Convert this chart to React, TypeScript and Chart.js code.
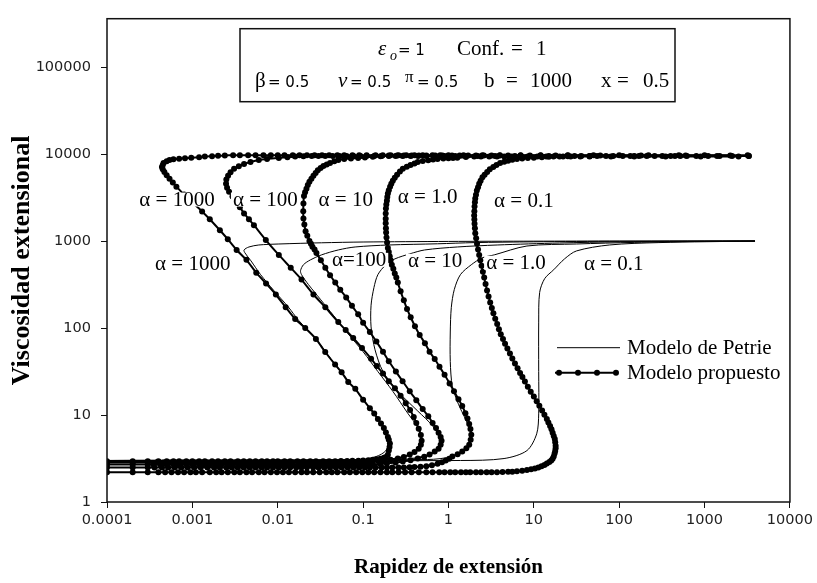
import React, { useEffect, useRef } from "react";
import { Chart, registerables } from "chart.js";

Chart.register(...registerables);

type Pt = [number, number];

// ---------- axes ----------
const xTickValues = [0.0001, 0.001, 0.01, 0.1, 1, 10, 100, 1000, 10000];
const xTickLabels = ["0.0001", "0.001", "0.01", "0.1", "1", "10", "100", "1000", "10000"];
const yTickValues = [1, 10, 100, 1000, 10000, 100000];
const yTickLabels = ["1", "10", "100", "1000", "10000", "100000"];
const xRange = [0.0001, 10000];
const yRange = [1, 360000];

// ---------- curve labels (text, anchor x, anchor y in data units) ----------
const labelTexts = ["α = 1000", "α = 100", "α = 10", "α = 1.0", "α = 0.1", "α = 1000", "α=100", "α = 10", "α = 1.0", "α = 0.1"];
const labelX = [0.00066, 0.00716, 0.0627, 0.57, 7.65, 0.00101, 0.0897, 0.697, 6.18, 86.3];
const labelY = [3000, 3000, 3000, 3250, 2920, 548, 608, 593, 562, 548];

// ---------- Modelo de Petrie (thin lines) ----------
const petrie1000: Pt[] = [
  [0.0001, 3], [0.0875, 3.05], [0.142, 3.33], [0.185, 3.9], [0.2, 5.07], [0.175, 7.1], [0.12, 12], [0.081, 19.7],
  [0.047, 38], [0.028, 75], [0.0175, 123], [0.0134, 173], [0.009, 270], [0.0063, 411], [0.00485, 593], [0.00413, 731],
  [0.00403, 790], [0.0046, 855], [0.006, 901], [0.0103, 925], [0.0325, 955], [0.1, 975], [1, 990], [10, 997], [100, 1000], [3900, 1000],
];
const petrie100: Pt[] = [
  [0.0001, 3], [0.171, 3.08], [0.292, 3.33], [0.413, 3.9], [0.485, 5.07], [0.448, 6.93], [0.333, 10.5], [0.223, 18.7],
  [0.149, 31.6], [0.1, 53.4], [0.067, 85.5], [0.0448, 140], [0.0316, 214], [0.0229, 316], [0.019, 411], [0.0185, 456],
  [0.02, 534], [0.0242, 608], [0.0325, 693], [0.0512, 790], [0.0807, 855], [0.2, 901], [0.745, 930], [2, 960], [10, 980],
  [100, 995], [3900, 1000],
];
const petrie10: Pt[] = [
  [0.0001, 3], [0.255, 3.08], [0.437, 3.25], [0.652, 3.7], [0.785, 4.56], [0.785, 5.48], [0.652, 7.5], [0.437, 11.1],
  [0.255, 18.7], [0.171, 31.6], [0.138, 56.2], [0.124, 103], [0.124, 183], [0.134, 292], [0.149, 411], [0.185, 534],
  [0.236, 624], [0.352, 712], [0.526, 790], [1.27, 855], [3.72, 901], [20, 950], [100, 980], [500, 995], [3900, 1000],
];
const petrie1: Pt[] = [
  [0.0001, 3], [0.57, 3.08], [1.11, 3.33], [1.54, 3.9], [1.85, 5.07], [1.8, 6.58], [1.58, 9.0], [1.31, 13.3],
  [1.11, 21.4], [1.05, 41.1], [1.05, 90], [1.08, 173], [1.17, 277], [1.38, 411], [1.85, 534], [2.48, 641],
  [3.43, 693], [8.3, 877], [31.6, 925], [150, 965], [800, 990], [3900, 1000],
];
const petrie01: Pt[] = [
  [0.0001, 3], [1.38, 3.0], [4.48, 3.16], [8.3, 3.9], [10.8, 6.08], [11.4, 10.3], [11.4, 31.6], [11.4, 117],
  [11.7, 257], [13.4, 370], [17.1, 468], [22.9, 624], [31.6, 770], [76.5, 901], [292, 960], [3900, 1000],
];

// ---------- Modelo propuesto (thick lines with markers) ----------
const propuesto1000: Pt[] = [
  [0.0001, 2.95], [0.0002, 2.95], [0.0003, 2.95], [0.0004, 2.95], [0.0005, 2.95], [0.0006, 2.95], [0.0007, 2.95],
  [0.00085, 2.95], [0.001, 2.95], [0.0012, 2.95], [0.0014, 2.95], [0.0017, 2.95], [0.002, 2.95], [0.0024, 2.95],
  [0.0028, 2.95], [0.0034, 2.95], [0.004, 2.95], [0.0047, 2.95], [0.0055, 2.95], [0.0065, 2.95], [0.0075, 2.95],
  [0.0088, 2.95], [0.01, 2.95], [0.012, 2.95], [0.014, 2.95], [0.017, 2.95], [0.02, 2.95], [0.024, 2.95],
  [0.028, 2.95], [0.034, 2.95], [0.04, 2.95], [0.047, 2.95], [0.055, 2.96], [0.065, 2.97], [0.075, 2.98],
  [0.088, 2.99], [0.1, 3.0], [0.115, 3.02], [0.13, 3.05], [0.145, 3.1], [0.16, 3.15], [0.175, 3.22], [0.185, 3.3],
  [0.195, 3.5], [0.2, 3.9], [0.204, 4.3], [0.206, 4.7], [0.2, 5.2], [0.195, 5.6], [0.185, 6.3], [0.175, 7.1],
  [0.162, 8], [0.149, 9], [0.135, 10.4], [0.12, 12], [0.1, 15], [0.081, 20], [0.067, 24], [0.056, 31], [0.047, 38],
  [0.036, 53], [0.028, 75], [0.021, 100], [0.016, 127], [0.0124, 173], [0.0095, 243], [0.0073, 325], [0.0056, 433],
  [0.0043, 608], [0.0033, 790], [0.0026, 1050], [0.0021, 1330], [0.0016, 1780], [0.0013, 2190], [0.001, 2770],
  [0.0008, 3420], [0.00065, 4220], [0.00059, 4700], [0.00054, 5200], [0.0005, 5700], [0.00047, 6240], [0.00045, 6700],
  [0.00044, 7100], [0.00045, 7500], [0.00046, 7900], [0.0005, 8250], [0.00054, 8550], [0.0006, 8700], [0.0007, 8850],
  [0.00082, 8950], [0.00097, 9050], [0.0012, 9200], [0.0014, 9350], [0.0017, 9450], [0.002, 9550], [0.0024, 9650],
  [0.003, 9700], [0.0036, 9700], [0.0045, 9700], [0.0055, 9700], [0.0068, 9700], [0.0083, 9700], [0.01, 9700],
  [0.012, 9700], [0.015, 9700], [0.018, 9700], [0.022, 9700], [0.027, 9700], [0.033, 9700], [0.04, 9700],
  [0.05, 9700], [0.06, 9700], [0.075, 9700], [0.09, 9700], [0.11, 9700], [0.14, 9700], [0.17, 9700], [0.21, 9700],
  [0.26, 9700], [0.32, 9700], [0.4, 9700], [0.5, 9700], [0.65, 9700], [0.8, 9700], [1, 9700], [1.5, 9700],
  [2.5, 9700], [4, 9700], [7, 9700], [12, 9700], [25, 9700], [50, 9700], [100, 9700], [220, 9700], [500, 9700],
  [1000, 9700], [3200, 9700],
];
const propuesto100: Pt[] = [
  [0.0001, 2.85], [0.0002, 2.85], [0.0003, 2.85], [0.00038, 2.85], [0.00046, 2.85], [0.00055, 2.85], [0.00065, 2.85],
  [0.00078, 2.85], [0.0009, 2.85], [0.0011, 2.85], [0.0013, 2.85], [0.0015, 2.85], [0.0018, 2.85], [0.0022, 2.85],
  [0.0026, 2.85], [0.0031, 2.85], [0.0037, 2.85], [0.0043, 2.85], [0.005, 2.85], [0.006, 2.85], [0.007, 2.85],
  [0.008, 2.85], [0.0095, 2.85], [0.011, 2.85], [0.013, 2.85], [0.015, 2.85], [0.018, 2.85], [0.022, 2.85],
  [0.026, 2.85], [0.031, 2.85], [0.037, 2.85], [0.043, 2.85], [0.05, 2.85], [0.06, 2.85], [0.07, 2.85],
  [0.08, 2.86], [0.09, 2.86], [0.1, 2.87], [0.115, 2.89], [0.13, 2.92], [0.15, 2.96], [0.171, 3.0], [0.21, 3.07],
  [0.255, 3.16], [0.3, 3.3], [0.352, 3.51], [0.4, 3.75], [0.448, 4.1], [0.475, 4.55], [0.485, 5.07], [0.475, 5.9],
  [0.448, 6.93], [0.42, 8.1], [0.392, 9.5], [0.355, 11.4], [0.316, 13.7], [0.275, 16.7], [0.236, 20.3], [0.2, 24.5],
  [0.171, 30], [0.145, 36.5], [0.124, 44.4], [0.097, 59], [0.0766, 76.9], [0.0625, 95], [0.0512, 117], [0.0361, 173],
  [0.0262, 243], [0.019, 361], [0.0142, 493], [0.0103, 693], [0.00725, 1027], [0.00526, 1520], [0.0046, 1780],
  [0.00403, 2080], [0.0036, 2450], [0.00325, 2850], [0.00295, 3250], [0.00269, 3700], [0.00255, 4100],
  [0.00248, 4560], [0.0025, 5100], [0.00262, 5620], [0.0028, 6200], [0.00308, 6760], [0.0035, 7250], [0.00403, 7690],
  [0.0048, 8100], [0.006, 8550], [0.0075, 8800], [0.0103, 9010], [0.013, 9200], [0.016, 9350], [0.02, 9450],
  [0.025, 9500], [0.03, 9500], [0.036, 9500], [0.044, 9500], [0.053, 9500], [0.064, 9500], [0.077, 9500],
  [0.093, 9500], [0.11, 9500], [0.135, 9500], [0.165, 9500], [0.2, 9500], [0.24, 9500], [0.29, 9500], [0.36, 9500],
  [0.44, 9500], [0.55, 9500], [0.7, 9500], [0.9, 9500], [1.2, 9500], [1.6, 9500], [2.2, 9500], [3.5, 9500],
  [6, 9500], [15, 9500], [45, 9500], [150, 9500], [450, 9500], [1500, 9500], [3300, 9500],
];
const propuesto10: Pt[] = [
  [0.0001, 2.7], [0.0002, 2.7], [0.0003, 2.7], [0.00035, 2.7], [0.00042, 2.7], [0.0005, 2.7], [0.0006, 2.7],
  [0.0007, 2.7], [0.00085, 2.7], [0.001, 2.7], [0.0012, 2.7], [0.0014, 2.7], [0.0016, 2.7], [0.0019, 2.7],
  [0.0022, 2.7], [0.0026, 2.7], [0.003, 2.7], [0.0036, 2.7], [0.0042, 2.7], [0.005, 2.7], [0.0058, 2.7],
  [0.0068, 2.7], [0.008, 2.7], [0.0095, 2.7], [0.011, 2.7], [0.013, 2.7], [0.015, 2.7], [0.018, 2.7], [0.021, 2.7],
  [0.024, 2.7], [0.028, 2.7], [0.033, 2.7], [0.039, 2.7], [0.045, 2.7], [0.053, 2.7], [0.062, 2.7], [0.072, 2.7],
  [0.083, 2.7], [0.095, 2.7], [0.11, 2.71], [0.13, 2.72], [0.16, 2.74], [0.19, 2.78], [0.24, 2.84], [0.292, 2.92],
  [0.36, 3.02], [0.437, 3.16], [0.52, 3.32], [0.601, 3.51], [0.69, 3.8], [0.766, 4.1], [0.81, 4.55], [0.83, 5.07],
  [0.81, 5.6], [0.766, 6.24], [0.715, 7.1], [0.652, 8.11], [0.58, 9.7], [0.499, 11.7], [0.42, 14.8], [0.352, 18.7],
  [0.29, 24.5], [0.242, 31.6], [0.2, 41.5], [0.171, 53.4], [0.143, 70], [0.12, 90], [0.1, 115], [0.0875, 144],
  [0.074, 180], [0.0634, 225], [0.054, 275], [0.0472, 333], [0.041, 405], [0.0361, 493], [0.032, 600], [0.0284, 731],
  [0.027, 800], [0.0255, 860], [0.0245, 930], [0.0235, 1000], [0.0222, 1150], [0.0212, 1300], [0.0205, 1550],
  [0.02, 1820], [0.0199, 2200], [0.02, 2700], [0.0203, 3300], [0.0209, 3650], [0.0217, 4000], [0.0225, 4400],
  [0.0235, 4800], [0.0248, 5200], [0.0262, 5620], [0.0278, 6050], [0.0295, 6500], [0.0318, 6900], [0.0343, 7310],
  [0.0375, 7600], [0.041, 7900], [0.046, 8250], [0.0512, 8550], [0.06, 8750], [0.072, 8900], [0.0875, 9010],
  [0.105, 9150], [0.13, 9300], [0.16, 9450], [0.2, 9600], [0.25, 9600], [0.3, 9600], [0.37, 9600], [0.45, 9600],
  [0.55, 9600], [0.7, 9600], [0.85, 9600], [1.1, 9600], [1.35, 9600], [1.7, 9600], [2.1, 9600], [2.6, 9600],
  [3.2, 9600], [4, 9600], [5, 9600], [7, 9600], [9, 9600], [12, 9600], [18, 9600], [25, 9600], [60, 9600],
  [180, 9600], [600, 9600], [2000, 9600],
];
const propuesto1: Pt[] = [
  [0.0001, 2.5], [0.0002, 2.5], [0.0003, 2.5], [0.00036, 2.5], [0.00044, 2.5], [0.00052, 2.5], [0.00062, 2.5],
  [0.00074, 2.5], [0.00088, 2.5], [0.00105, 2.5], [0.00125, 2.5], [0.0015, 2.5], [0.0018, 2.5], [0.0021, 2.5],
  [0.0025, 2.5], [0.0029, 2.5], [0.0034, 2.5], [0.004, 2.5], [0.0047, 2.5], [0.0055, 2.5], [0.0065, 2.5],
  [0.0075, 2.5], [0.0088, 2.5], [0.0103, 2.5], [0.012, 2.5], [0.014, 2.5], [0.0165, 2.5], [0.019, 2.5], [0.022, 2.5],
  [0.026, 2.5], [0.03, 2.5], [0.035, 2.5], [0.041, 2.5], [0.048, 2.5], [0.056, 2.5], [0.066, 2.5], [0.077, 2.5],
  [0.09, 2.5], [0.105, 2.5], [0.12, 2.5], [0.14, 2.5], [0.165, 2.5], [0.19, 2.5], [0.22, 2.5], [0.26, 2.5],
  [0.3, 2.5], [0.35, 2.51], [0.4, 2.52], [0.47, 2.55], [0.55, 2.58], [0.64, 2.65], [0.745, 2.75], [0.84, 2.86],
  [0.93, 3.0], [1.02, 3.15], [1.11, 3.33], [1.28, 3.55], [1.45, 3.8], [1.62, 4.15], [1.75, 4.56], [1.82, 5.2],
  [1.85, 5.93], [1.81, 6.9], [1.75, 7.9], [1.67, 9.1], [1.58, 10.5], [1.45, 12.7], [1.31, 15.2], [1.16, 18.8],
  [1.03, 23.1], [0.9, 29], [0.785, 36], [0.69, 44], [0.601, 53.4], [0.53, 67], [0.46, 83.3], [0.405, 105],
  [0.361, 133], [0.327, 166], [0.3, 208], [0.275, 265], [0.255, 333], [0.245, 380], [0.235, 425], [0.226, 480],
  [0.217, 534], [0.21, 600], [0.205, 670], [0.2, 750], [0.195, 832], [0.191, 960], [0.188, 1100], [0.186, 1250],
  [0.185, 1400], [0.184, 1600], [0.184, 1800], [0.184, 2070], [0.185, 2370], [0.187, 2630], [0.19, 2900],
  [0.192, 3200], [0.195, 3510], [0.2, 3850], [0.207, 4200], [0.214, 4550], [0.223, 4930], [0.235, 5350],
  [0.25, 5800], [0.27, 6300], [0.292, 6760], [0.325, 7150], [0.36, 7500], [0.4, 7800], [0.437, 8110], [0.5, 8300],
  [0.58, 8500], [0.66, 8650], [0.745, 8780], [0.87, 8870], [1.0, 8950], [1.13, 9000], [1.27, 9050], [1.6, 9250],
  [2, 9400], [2.4, 9400], [3, 9400], [3.7, 9400], [4.5, 9400], [5.5, 9400], [7, 9400], [8.5, 9400], [11, 9400],
  [14, 9400], [17, 9400], [22, 9400], [27, 9400], [35, 9400], [45, 9400], [80, 9400], [150, 9400], [350, 9400],
  [900, 9400], [2500, 9400],
];
const propuesto01: Pt[] = [
  [0.0001, 2.2], [0.0002, 2.2], [0.0003, 2.2], [0.0004, 2.2], [0.00048, 2.2], [0.00057, 2.2], [0.00068, 2.2],
  [0.0008, 2.2], [0.00095, 2.2], [0.0011, 2.2], [0.0013, 2.2], [0.0016, 2.2], [0.0019, 2.2], [0.0022, 2.2],
  [0.0026, 2.2], [0.0031, 2.2], [0.0036, 2.2], [0.0043, 2.2], [0.005, 2.2], [0.006, 2.2], [0.007, 2.2],
  [0.0083, 2.2], [0.0098, 2.2], [0.0115, 2.2], [0.0135, 2.2], [0.016, 2.2], [0.019, 2.2], [0.022, 2.2],
  [0.026, 2.2], [0.031, 2.2], [0.037, 2.2], [0.043, 2.2], [0.05, 2.2], [0.06, 2.2], [0.07, 2.2], [0.083, 2.2],
  [0.098, 2.2], [0.115, 2.2], [0.135, 2.2], [0.16, 2.2], [0.19, 2.2], [0.22, 2.2], [0.26, 2.2], [0.31, 2.2],
  [0.37, 2.2], [0.45, 2.2], [0.55, 2.2], [0.65, 2.2], [0.78, 2.2], [0.9, 2.2], [1.05, 2.2], [1.2, 2.2], [1.4, 2.2],
  [1.6, 2.2], [1.8, 2.2], [2.1, 2.2], [2.4, 2.2], [2.8, 2.2], [3.2, 2.2], [3.7, 2.2], [4.3, 2.21], [5, 2.22],
  [5.6, 2.23], [6.34, 2.25], [7.3, 2.28], [8.3, 2.33], [9.3, 2.38], [10.3, 2.43], [11.3, 2.5], [12.3, 2.58],
  [13.3, 2.67], [14.2, 2.77], [15.2, 2.88], [16, 3.0], [16.6, 3.15], [17.1, 3.33], [17.5, 3.6], [17.8, 3.85],
  [18, 4.15], [18, 4.44], [17.8, 4.85], [17.6, 5.3], [17.1, 5.75], [16.6, 6.24], [16.1, 6.85], [15.5, 7.5],
  [14.8, 8.2], [14.2, 9.0], [13.3, 10.1], [12.5, 11.3], [11.6, 12.8], [10.8, 14.4], [10, 16.3], [9.2, 18.5],
  [8.5, 21.2], [7.86, 24.3], [7.35, 27.3], [6.9, 30.5], [6.45, 34.5], [6.01, 39], [5.6, 44.5], [5.25, 51], [4.9, 58],
  [4.6, 65.8], [4.35, 75], [4.1, 85], [3.9, 97], [3.72, 111], [3.53, 128], [3.36, 148], [3.22, 170], [3.08, 197],
  [2.95, 230], [2.83, 270], [2.72, 320], [2.62, 380], [2.53, 445], [2.44, 520], [2.36, 600], [2.29, 693],
  [2.22, 800], [2.16, 930], [2.11, 1080], [2.06, 1230], [2.04, 1400], [2.02, 1580], [2.01, 1770], [2.0, 1970],
  [2.01, 2200], [2.02, 2500], [2.04, 2800], [2.06, 3080], [2.1, 3400], [2.15, 3800], [2.22, 4150], [2.29, 4560],
  [2.38, 4950], [2.5, 5400], [2.65, 5800], [2.84, 6240], [3.05, 6700], [3.35, 7100], [3.65, 7500], [4.03, 7900],
  [4.5, 8150], [5, 8400], [5.6, 8600], [6.34, 8780], [7.3, 8900], [8.5, 9000], [10, 9100], [12.4, 9200],
  [15, 9300], [20, 9400], [25, 9450], [30, 9500], [36, 9500], [45, 9500], [55, 9500], [70, 9500], [85, 9500],
  [110, 9500], [135, 9500], [170, 9500], [210, 9500], [260, 9500], [320, 9500], [400, 9500], [520, 9500],
  [620, 9500], [800, 9500], [1100, 9500], [1400, 9500], [2100, 9500], [3300, 9500],
];

const petrieSeries = [petrie1000, petrie100, petrie10, petrie1, petrie01];
const propuestoSeries = [propuesto1000, propuesto100, propuesto10, propuesto1, propuesto01];

const SERIF = '"Liberation Serif", "Times New Roman", serif';
const SANS = '"DejaVu Sans", "Liberation Sans", sans-serif';

const toXY = (p: Pt[]) => p.map(([x, y]) => ({ x, y }));

export default function App() {
  const ref = useRef<HTMLCanvasElement | null>(null);

  useEffect(() => {
    document.body.style.margin = "0";
    const canvas = ref.current;
    if (!canvas) return;

    const overlay = {
      id: "overlay",
      afterDraw(chart: any) {
        const { ctx, chartArea: a } = chart;
        const xs = chart.scales.x;
        const ys = chart.scales.y;
        ctx.save();

        // frame
        ctx.strokeStyle = "#111";
        ctx.lineWidth = 1.5;
        ctx.strokeRect(a.left, a.top, a.right - a.left, a.bottom - a.top);

        // curve labels
        ctx.font = `21px ${SERIF}`;
        ctx.textAlign = "center";
        ctx.textBaseline = "middle";
        labelTexts.forEach((t, i) => {
          const px = xs.getPixelForValue(labelX[i]);
          const py = ys.getPixelForValue(labelY[i]);
          const w = ctx.measureText(t).width;
          ctx.fillStyle = "#fff";
          ctx.fillRect(px - w / 2 - 2, py - 7, w + 4, 14);
          ctx.fillStyle = "#000";
          ctx.fillText(t, px, py + 1);
        });

        // parameter box
        const bx = a.left + 133;
        const by = a.top + 10;
        ctx.fillStyle = "#fff";
        ctx.fillRect(bx, by, 435, 73);
        ctx.strokeStyle = "#111";
        ctx.lineWidth = 1.5;
        ctx.strokeRect(bx, by, 435, 73);
        ctx.textAlign = "left";
        ctx.textBaseline = "alphabetic";
        ctx.fillStyle = "#000";
        const txt = (s: string, x: number, y: number, font: string) => {
          ctx.font = font;
          ctx.fillText(s, x, y);
        };
        const serif = `21px ${SERIF}`;
        const serifI = `italic 21px ${SERIF}`;
        const sans = `15px ${SANS}`;
        const L1 = by + 26;
        const L2 = by + 58;
        txt("ε", bx + 138, L1, serifI);
        txt("o", bx + 150, L1 + 5, `italic 14px ${SERIF}`);
        txt("= 1", bx + 158, L1, sans);
        txt("Conf.", bx + 217, L1, serif);
        txt("=", bx + 271, L1, serif);
        txt("1", bx + 296, L1, serif);
        txt("β", bx + 15, L2, serif);
        txt("= 0.5", bx + 28, L2, sans);
        txt("ν", bx + 98, L2, serifI);
        txt("= 0.5", bx + 110, L2, sans);
        txt("π", bx + 165, L2 - 5, `17px ${SERIF}`);
        txt("= 0.5", bx + 177, L2, sans);
        txt("b", bx + 244, L2, serif);
        txt("=", bx + 266, L2, serif);
        txt("1000", bx + 290, L2, serif);
        txt("x", bx + 361, L2, serif);
        txt("=", bx + 377, L2, serif);
        txt("0.5", bx + 403, L2, serif);

        // legend
        const lx = a.left + 450;
        const ly1 = a.top + 329;
        const ly2 = a.top + 354;
        ctx.strokeStyle = "#000";
        ctx.lineWidth = 1;
        ctx.beginPath();
        ctx.moveTo(lx, ly1);
        ctx.lineTo(lx + 63, ly1);
        ctx.stroke();
        ctx.lineWidth = 2;
        ctx.beginPath();
        ctx.moveTo(lx - 2, ly2);
        ctx.lineTo(lx + 61, ly2);
        ctx.stroke();
        [2, 21, 40, 59].forEach((d) => {
          ctx.beginPath();
          ctx.arc(lx + d, ly2, 3, 0, Math.PI * 2);
          ctx.fill();
        });
        ctx.font = `21px ${SERIF}`;
        ctx.textBaseline = "middle";
        ctx.fillText("Modelo de Petrie", lx + 70, ly1 + 1);
        ctx.fillText("Modelo propuesto", lx + 70, ly2 + 1);

        // axis titles
        ctx.font = `bold 21px ${SERIF}`;
        ctx.textAlign = "center";
        ctx.fillText("Rapidez de extensión", (a.left + a.right) / 2, 568);
        ctx.save();
        ctx.translate(22, (a.top + a.bottom) / 2);
        ctx.rotate(-Math.PI / 2);
        ctx.font = `bold 26px ${SERIF}`;
        ctx.fillText("Viscosidad extensional", 0, 0);
        ctx.restore();

        ctx.restore();
      },
    };

    const thin = (d: Pt[]) => ({
      data: toXY(d),
      showLine: true,
      borderColor: "#000",
      backgroundColor: "#000",
      borderWidth: 1,
      pointRadius: 0,
      tension: 0.3,
    });
    const thick = (d: Pt[]) => ({
      data: toXY(d),
      showLine: true,
      borderColor: "#000",
      backgroundColor: "#000",
      borderWidth: 2,
      pointRadius: 3,
      pointBorderWidth: 0,
      pointHoverRadius: 0,
      tension: 0.2,
    });

    const chart = new Chart(canvas, {
      type: "scatter",
      data: {
        datasets: [...petrieSeries.map(thin), ...propuestoSeries.map(thick)] as any,
      },
      options: {
        animation: false,
        responsive: false,
        devicePixelRatio: 1,
        events: [],
        layout: { padding: { top: 13, right: 22, left: 0, bottom: 0 } },
        plugins: { legend: { display: false }, tooltip: { enabled: false } },
        scales: {
          x: {
            type: "logarithmic",
            position: "bottom",
            min: xRange[0],
            max: xRange[1],
            afterBuildTicks: (s: any) => {
              s.ticks = xTickValues.map((v) => ({ value: v }));
            },
            afterFit: (s: any) => {
              s.height = 81;
            },
            ticks: {
              autoSkip: false,
              maxRotation: 0,
              padding: 4,
              color: "#222",
              font: { family: SANS, size: 14.5 },
              callback: (_v: any, i: number) => xTickLabels[i],
            },
            grid: { display: true, drawOnChartArea: false, drawTicks: true, tickLength: 6, tickColor: "#111", tickWidth: 1 },
            border: { display: false },
          },
          y: {
            type: "logarithmic",
            position: "left",
            min: yRange[0],
            max: yRange[1],
            afterBuildTicks: (s: any) => {
              s.ticks = yTickValues.map((v) => ({ value: v }));
            },
            afterFit: (s: any) => {
              s.width = 107;
            },
            ticks: {
              autoSkip: false,
              padding: 10,
              color: "#222",
              font: { family: SANS, size: 14.5 },
              callback: (_v: any, i: number) => yTickLabels[i],
            },
            grid: { display: true, drawOnChartArea: false, drawTicks: true, tickLength: 6, tickColor: "#111", tickWidth: 1 },
            border: { display: false },
          },
        },
      } as any,
      plugins: [overlay],
    });

    return () => chart.destroy();
  }, []);

  return (
    <div style={{ width: 817, height: 583 }}>
      <canvas ref={ref} width={817} height={583} />
    </div>
  );
}
